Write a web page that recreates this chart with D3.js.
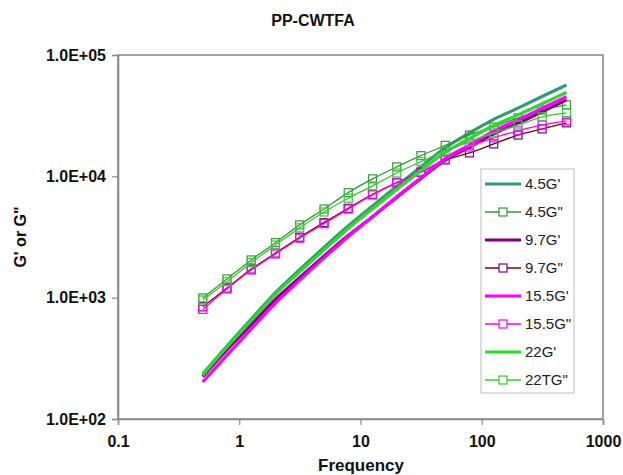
<!DOCTYPE html>
<html><head><meta charset="utf-8">
<script src="https://cdn.jsdelivr.net/npm/d3@7"></script>
<style>body{margin:0;background:#fff}svg{display:block;font-family:"Liberation Sans",Arial,sans-serif}</style>
</head><body><div id="chart"></div>
<script>
const frequency = [0.5, 0.792, 1.256, 1.99, 3.15, 5, 7.92, 12.56, 19.9, 31.5, 50, 79.2, 125.6, 199, 315, 500];
const g45p  = [235, 400, 666, 1100, 1700, 2600, 3900, 5700, 8300, 12000, 17200, 22800, 29500, 36500, 45500, 56600];
const g45pp = [995, 1426, 2046, 2840, 3980, 5380, 7340, 9530, 11960, 14800, 18000, 21900, 25500, 30300, 35200, 38800];
const g97p  = [223, 372, 600, 968, 1462, 2200, 3250, 4650, 6700, 9600, 13600, 17400, 22420, 27400, 34100, 42700];
const g97pp = [840, 1200, 1720, 2330, 3150, 4150, 5450, 7100, 8900, 10800, 13650, 15600, 18500, 21900, 24600, 27600];
const g155p = [202, 336, 553, 902, 1394, 2130, 3180, 4650, 6800, 9750, 14000, 18100, 23600, 29200, 36400, 45280];
const g155pp= [800, 1180, 1690, 2290, 3090, 4070, 5370, 7030, 8830, 10870, 13800, 17460, 20760, 23700, 26500, 28700];
const g22p  = [230, 392, 646, 1067, 1632, 2480, 3720, 5400, 7800, 11100, 15800, 20500, 26250, 32100, 39600, 49240];
const g22pp = [957, 1355, 1945, 2717, 3760, 5080, 6600, 8340, 10660, 13200, 16200, 19300, 22800, 26500, 30900, 33400];
const seriesNames = ["4.5G'", "4.5G\"", "9.7G'", "9.7G\"", "15.5G'", "15.5G\"", "22G'", "22TG\""];
const xTicks = [0.1, 1, 10, 100, 1000];
const xTickLabels = ["0.1", "1", "10", "100", "1000"];
const yTicks = [100, 1000, 10000, 100000];
const yTickLabels = ["1.0E+02", "1.0E+03", "1.0E+04", "1.0E+05"];

const series = [
  {name: seriesNames[0], values: g45p,  line: "#339977", width: 3.2, marker: null},
  {name: seriesNames[1], values: g45pp, line: "#339933", width: 1.3, marker: "#339933"},
  {name: seriesNames[2], values: g97p,  line: "#800080", width: 3.2, marker: null},
  {name: seriesNames[3], values: g97pp, line: "#800000", width: 1.3, marker: "#800080"},
  {name: seriesNames[4], values: g155p, line: "#ff00ff", width: 3.2, marker: null},
  {name: seriesNames[5], values: g155pp,line: "#ff00ff", width: 1.3, marker: "#ff00ff"},
  {name: seriesNames[6], values: g22p,  line: "#22e022", width: 3.2, marker: null},
  {name: seriesNames[7], values: g22pp, line: "#33cc33", width: 1.3, marker: "#33cc33"}
];

const W = 623, H = 475;
const L = 118, R = 603, T = 55, B = 419;
const svg = d3.select("#chart").append("svg").attr("width", W).attr("height", H);

const x = d3.scaleLog().domain([0.1, 1000]).range([L, R]);
const y = d3.scaleLog().domain([100, 100000]).range([B, T]);

svg.append("text").attr("x", 313).attr("y", 26).attr("text-anchor", "middle")
  .attr("font-weight", "bold").attr("font-size", 16).attr("fill", "#111").text("PP-CWTFA");

svg.append("rect").attr("x", L).attr("y", T).attr("width", R - L).attr("height", B - T)
  .attr("fill", "none").attr("stroke", "#8a8a8a").attr("stroke-width", 1.6);

const xAxis = svg.append("g").attr("transform", `translate(0,${B})`)
  .call(d3.axisBottom(x).tickValues(xTicks).tickFormat((d, i) => xTickLabels[i]).tickSize(6).tickPadding(8));
const yAxis = svg.append("g").attr("transform", `translate(${L},0)`)
  .call(d3.axisLeft(y).tickValues(yTicks).tickFormat((d, i) => yTickLabels[i]).tickSize(6).tickPadding(6));
[xAxis, yAxis].forEach(a => {
  a.select(".domain").attr("stroke", "#8a8a8a").attr("stroke-width", 1.6);
  a.selectAll(".tick line").attr("stroke", "#8a8a8a").attr("stroke-width", 1.2);
  a.selectAll("text").attr("font-size", 16).attr("font-weight", "bold").attr("fill", "#111")
    .attr("font-family", "Liberation Sans, Arial, sans-serif");
});
xAxis.selectAll("text").attr("dy", "0.85em");

svg.append("text").attr("x", 361).attr("y", 471).attr("text-anchor", "middle")
  .attr("font-weight", "bold").attr("font-size", 17).attr("fill", "#111").text("Frequency");
svg.append("text").attr("transform", "translate(26,237) rotate(-90)").attr("text-anchor", "middle")
  .attr("font-weight", "bold").attr("font-size", 16).attr("fill", "#111").text("G' or G\"");

const line = d3.line().x(d => x(d[0])).y(d => y(d[1])).curve(d3.curveCatmullRom.alpha(0.5));
const plot = svg.append("g");
series.forEach(s => {
  const pts = frequency.map((f, i) => [f, s.values[i]]);
  plot.append("path").datum(pts).attr("d", line).attr("fill", "none")
    .attr("stroke", s.line).attr("stroke-width", s.width).attr("stroke-linejoin", "round");
  if (s.marker) {
    plot.selectAll(null).data(pts).enter().append("rect")
      .attr("x", d => x(d[0]) - 4).attr("y", d => y(d[1]) - 4)
      .attr("width", 8).attr("height", 8).attr("fill", "none")
      .attr("stroke", s.marker).attr("stroke-width", 1.2);
  }
});

const lg = svg.append("g");
lg.append("rect").attr("x", 481).attr("y", 169).attr("width", 93).attr("height", 224)
  .attr("fill", "#fff").attr("stroke", "#bdbdbd").attr("stroke-width", 1);
series.forEach((s, i) => {
  const yy = 184 + 28 * i;
  lg.append("line").attr("x1", 485).attr("x2", 521).attr("y1", yy).attr("y2", yy)
    .attr("stroke", s.line).attr("stroke-width", s.width);
  if (s.marker) {
    lg.append("rect").attr("x", 499).attr("y", yy - 4).attr("width", 8).attr("height", 8)
      .attr("fill", "#fff").attr("stroke", s.marker).attr("stroke-width", 1.2);
  }
  lg.append("text").attr("x", 525).attr("y", yy).attr("dy", "0.35em").attr("font-size", 15)
    .attr("fill", "#222").text(s.name);
});
</script></body></html>
